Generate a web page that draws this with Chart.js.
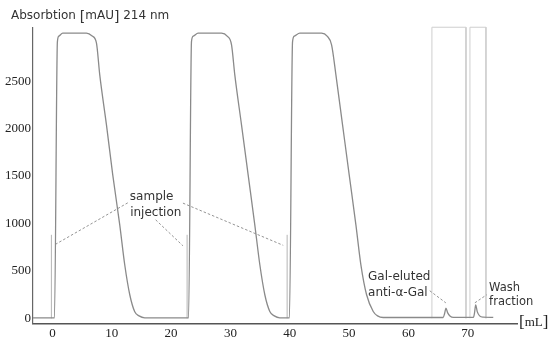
<!DOCTYPE html>
<html><head><meta charset="utf-8">
<script src="https://cdn.jsdelivr.net/npm/chart.js@4/dist/chart.umd.min.js"></script>
<style>html,body{margin:0;padding:0;background:#fff;}#wrap{width:550px;height:341px;position:relative;}</style>
</head><body><div id="wrap"><canvas id="c" width="550" height="341"></canvas></div>
<script>
// ---- data ----
const traceVolume = [-3.27, 0.35, 0.84, 1.1, 1.74, 5.73, 6.7, 7.42, 7.98, 9.11, 10.17, 11.35, 12.19, 13.04, 13.88, 14.6, 15.57,
  22.95, 23.44, 23.75, 24.55, 28.5, 29.45, 30.19, 30.74, 31.87, 32.99, 34.11, 34.96, 35.8, 36.64, 37.4, 38.33,
  39.95, 40.47, 40.78, 41.7, 45.36, 46.3, 47.05, 47.78, 48.9, 50.02, 51.15, 51.99, 52.95, 54.07, 54.8, 55.75,
  65.85, 66.1, 66.32, 66.6, 67.0, 67.6, 70.95, 71.15, 71.33, 71.6, 72.0, 72.6, 74.3];
const traceAbsorbance = [5, 5, 2914, 2975, 3005, 3005, 2975, 2903, 2566, 2039, 1512, 985, 564, 248, 68, 25, 5,
  5, 2917, 2975, 3005, 3005, 2975, 2882, 2566, 2039, 1512, 985, 564, 248, 72, 25, 5,
  5, 2914, 2975, 3005, 3005, 2975, 2882, 2566, 2039, 1512, 985, 564, 248, 72, 25, 8,
  8, 50, 107, 60, 25, 10, 10, 60, 142, 70, 25, 12, 10];
const injectionVolumes = [-0.17, 22.7, 39.56];
const injectionMarkerHeight = 880;
const fractionStart = [63.96, 70.37];
const fractionEnd = [69.7, 73.07];
const fractionTop = 3068;
const xTickValues = [0, 10, 20, 30, 40, 50, 60, 70];
const yTickValues = [0, 500, 1000, 1500, 2000, 2500];
const yAxisTitleParts = ['Absorbtion ', '[', 'mAU', ']', ' 214 nm'];
const xAxisUnit = 'mL';
// annotation texts (anchor in data units) and leader lines
const noteTexts = [
  {text: 'sample', x: 13.05, y: 1280, size: 12},
  {text: 'injection', x: 13.1, y: 1112, size: 12},
  {text: 'Gal-eluted', x: 53.2, y: 437, size: 12},
  {text: 'anti-\u03B1-Gal', x: 53.2, y: 269, size: 12},
  {text: 'Wash', x: 73.6, y: 321, size: 11.5},
  {text: 'fraction', x: 73.6, y: 174, size: 11.5}
];
const noteLines = [
  [12.7, 1217, 0.39, 775],
  [17.4, 1038, 22.0, 764],
  [22.0, 1214, 38.9, 769],
  [63.6, 290, 66.3, 163],
  [71.2, 163, 73.2, 248]
];

// ---- build datasets ----
const tracePts = traceVolume.map((v, i) => ({x: v, y: traceAbsorbance[i]}));
const spikePts = [];
injectionVolumes.forEach(v => { spikePts.push({x: v, y: 0}, {x: v, y: injectionMarkerHeight}, {x: v, y: null}); });
const fracPts = [];
fractionStart.forEach((s, i) => {
  const e = fractionEnd[i];
  fracPts.push({x: s, y: 0}, {x: s, y: fractionTop}, {x: e, y: fractionTop}, {x: e, y: 0}, {x: e, y: null});
});

const SERIF = "'Liberation Serif', 'Times New Roman', serif";

const annot = {
  id: 'annot',
  afterDraw(chart) {
    const ctx = chart.ctx, xs = chart.scales.x, ys = chart.scales.y;
    ctx.save();
    // leader lines
    ctx.strokeStyle = '#888';
    ctx.lineWidth = 0.9;
    ctx.setLineDash([2.5, 2]);
    noteLines.forEach(l => {
      ctx.beginPath();
      ctx.moveTo(xs.getPixelForValue(l[0]), ys.getPixelForValue(l[1]));
      ctx.lineTo(xs.getPixelForValue(l[2]), ys.getPixelForValue(l[3]));
      ctx.stroke();
    });
    ctx.setLineDash([]);
    // texts
    ctx.fillStyle = '#333';
    ctx.textBaseline = 'middle';
    ctx.textAlign = 'left';
    noteTexts.forEach(t => {
      ctx.font = t.size + 'px "DejaVu Sans"';
      ctx.fillText(t.text, xs.getPixelForValue(t.x), ys.getPixelForValue(t.y));
    });
    // y-axis title
    ctx.textBaseline = 'alphabetic';
    let tx = 11;
    const ty = 19;
    yAxisTitleParts.forEach(p => {
      const br = (p === '[' || p === ']');
      ctx.font = (br ? '14px' : '12px') + ' "DejaVu Sans"';
      ctx.fillText(p, tx, br ? ty + 1.5 : ty);
      tx += ctx.measureText(p).width;
    });
    // x-axis unit
    ctx.fillStyle = '#222';
    ctx.textBaseline = 'middle';
    let ux = xs.right + 2;
    const uy = xs.top - 1;
    ctx.font = '17px ' + SERIF;
    ctx.fillText('[', ux, uy); ux += ctx.measureText('[').width;
    ctx.font = '13px ' + SERIF;
    ctx.fillText(xAxisUnit, ux, uy); ux += ctx.measureText(xAxisUnit).width;
    ctx.font = '17px ' + SERIF;
    ctx.fillText(']', ux, uy);
    ctx.restore();
  }
};

new Chart(document.getElementById('c'), {
  type: 'line',
  data: {
    datasets: [
      {data: tracePts, borderColor: '#8a8a8a', borderWidth: 1.3, pointRadius: 0, cubicInterpolationMode: 'monotone', fill: false, order: 1},
      {data: spikePts, borderColor: '#b5b5b5', borderWidth: 1, pointRadius: 0, spanGaps: false, fill: false, order: 2},
      {data: fracPts, borderColor: '#cfcfcf', borderWidth: 1, pointRadius: 0, spanGaps: false, fill: false, clip: false, order: 3}
    ]
  },
  options: {
    responsive: false,
    animation: false,
    devicePixelRatio: 1,
    layout: {padding: {top: 28, right: 33, bottom: 0, left: 0}},
    plugins: {legend: {display: false}, tooltip: {enabled: false}, title: {display: false}},
    scales: {
      x: {
        type: 'linear', min: -3.27, max: 78.3,
        grid: {display: false, drawTicks: false},
        border: {display: true, color: '#555', width: 1.5},
        ticks: {font: {family: SERIF, size: 13}, color: '#222', padding: 2, maxRotation: 0, autoSkip: false, callback: v => String(v)},
        afterBuildTicks: s => { s.ticks = xTickValues.map(v => ({value: v})); },
        afterFit: s => { s.height = 17.5; }
      },
      y: {
        type: 'linear', min: -55, max: 3060,
        grid: {display: false, drawTicks: false},
        border: {display: true, color: '#666', width: 1.2},
        ticks: {font: {family: SERIF, size: 13}, color: '#222', padding: 2, autoSkip: false, callback: v => String(v)},
        afterBuildTicks: s => { s.ticks = yTickValues.map(v => ({value: v})); },
        afterFit: s => { s.width = 33; }
      }
    }
  },
  plugins: [annot]
});
</script></body></html>
